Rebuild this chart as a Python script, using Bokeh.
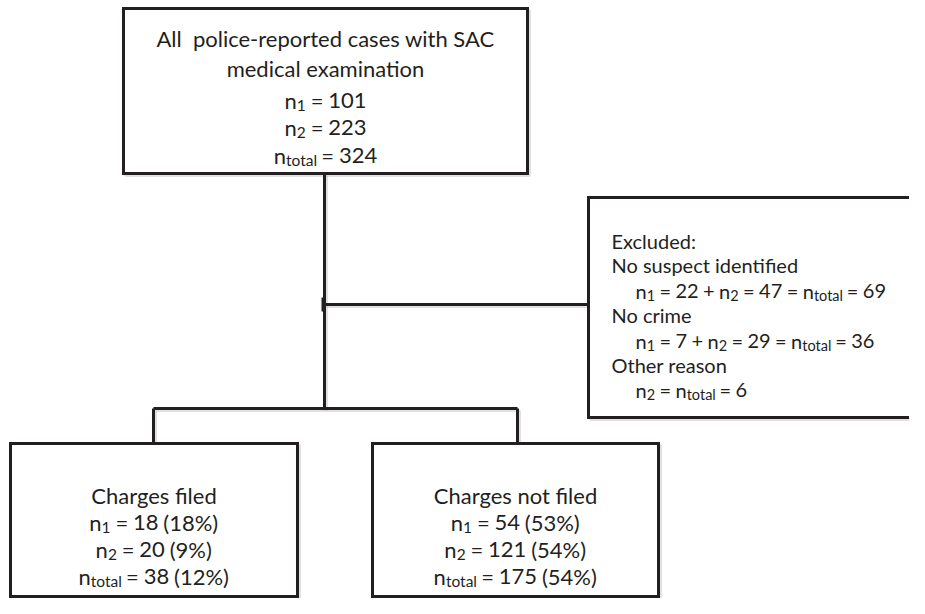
from bokeh.plotting import figure
from bokeh.models import ColumnDataSource, Range1d
from bokeh.embed import file_html
from bokeh.resources import INLINE

# ---------------- data ----------------
top_title = ["All  police-reported cases with SAC", "medical examination"]
all_n1 = 101
all_n2 = 223
all_total = 324

excl_header = "Excluded:"
excl_reasons = ["No suspect identified", "No crime", "Other reason"]
excl_n1 = [22, 7, None]
excl_n2 = [47, 29, 6]
excl_total = [69, 36, 6]

outcome_labels = ["Charges filed", "Charges not filed"]
outcome_n1 = [18, 54]
outcome_n1_pct = [18, 53]
outcome_n2 = [20, 121]
outcome_n2_pct = [9, 54]
outcome_total = [38, 175]
outcome_total_pct = [12, 54]

# ---------------- style / layout ----------------
INK = "#231f20"
FONT = "Lato"
FS_BOX, FS_BOX_SUB = 22, 15.5     # top / outcome boxes
FS_EXC, FS_EXC_SUB = 20, 14.5     # excluded box
SUB_DY = 4.5
LW = 3

W = {' ': 0.22, '=': 0.58, '+': 0.58, '(': 0.30, ')': 0.30, '%': 0.76,
     'n': 0.56, 't': 0.34, 'o': 0.55, 'a': 0.49, 'l': 0.245}
for d in "0123456789":
    W[d] = 0.58


def text_width(s, size):
    return sum(W.get(c, 0.55) for c in s) * size


TOP_BOX = (123, 8, 527, 173)
EXC_BOX = (588, 197, 960, 417)
OUT_BOXES = [(10, 443, 297, 596), (372, 443, 658, 596)]

p = figure(width=909, height=598, x_range=Range1d(0, 909), y_range=Range1d(598, 0),
           output_backend="svg", toolbar_location=None, min_border=0)
p.axis.visible = False
p.grid.visible = False
p.outline_line_color = None
p.background_fill_color = "white"
p.border_fill_color = "white"

# connectors
trunk_x = 324
branch_y = 304
bar_y = 408
drop_x = [153, 517]
seg_xs = [[trunk_x, trunk_x], [trunk_x, EXC_BOX[0]], [drop_x[0], drop_x[1]],
          [drop_x[0], drop_x[0]], [drop_x[1], drop_x[1]]]
seg_ys = [[TOP_BOX[3], bar_y], [branch_y, branch_y], [bar_y, bar_y],
          [bar_y, OUT_BOXES[0][1]], [bar_y, OUT_BOXES[1][1]]]

boxes = [TOP_BOX, EXC_BOX] + OUT_BOXES

# soft shadows
p.multi_line([[x + 2 for x in xs] for xs in seg_xs], [[y + 2 for y in ys] for ys in seg_ys],
             line_color="#9a9a9a", line_alpha=0.3, line_width=LW)
p.quad(left=[b[0] + 2 for b in boxes], right=[b[2] + 2 for b in boxes],
       top=[b[1] + 2 for b in boxes], bottom=[b[3] + 2 for b in boxes],
       fill_color=None, line_color="#9a9a9a", line_alpha=0.3, line_width=LW)

p.multi_line(seg_xs, seg_ys, line_color=INK, line_width=LW)
p.segment(x0=[trunk_x - 2], y0=[branch_y - 7], x1=[trunk_x - 2], y1=[branch_y + 7],
          line_color=INK, line_width=2)

p.quad(left=[b[0] for b in boxes], right=[b[2] for b in boxes],
       top=[b[1] for b in boxes], bottom=[b[3] for b in boxes],
       fill_color="white", line_color=INK, line_width=LW, line_join="miter")

# ---------------- texts ----------------
tx, ty, tt, tfs, tal = [], [], [], [], []


def add_title(text, x, y, size, align):
    tx.append(x)
    ty.append(y)
    tt.append(text.replace("  ", " \u00a0"))
    tfs.append(f"{size}px")
    tal.append(align)


def tokens(segs, size, sub_size):
    out = []
    x = 0.0
    for t, sub in segs:
        s = sub_size if sub else size
        i = 0
        while i < len(t):
            if t[i] == " ":
                x += W[" "] * s
                i += 1
                continue
            j = i
            while j < len(t) and t[j] != " ":
                j += 1
            tok = t[i:j]
            out.append((tok, x, sub, s))
            x += text_width(tok, s)
            i = j
    return out, x


def add_segs(segs, x, y, size, sub_size, align="center"):
    toks, total = tokens(segs, size, sub_size)
    x0 = x - total / 2 if align == "center" else x
    for tok, off, sub, s in toks:
        tx.append(x0 + off)
        ty.append(y + (SUB_DY if sub else 0))
        tt.append(tok)
        tfs.append(f"{s}px")
        tal.append("left")


def n_line(sub, rest):
    return [("n", False), (sub, True), (rest, False)]


# top box
cx = (TOP_BOX[0] + TOP_BOX[2]) / 2
top_base = [38, 68, 100, 127, 155]
add_title(top_title[0], cx, top_base[0], FS_BOX, "center")
add_title(top_title[1], cx, top_base[1], FS_BOX, "center")
add_segs(n_line("1", f" = {all_n1}"), cx, top_base[2], FS_BOX, FS_BOX_SUB)
add_segs(n_line("2", f" = {all_n2}"), cx, top_base[3], FS_BOX, FS_BOX_SUB)
add_segs(n_line("total", f" = {all_total}"), cx, top_base[4], FS_BOX, FS_BOX_SUB)

# excluded box
ex_x0, ex_x1 = 611, 635
ex_base = [240, 264, 290, 314, 340, 364, 389]
add_title(excl_header, ex_x0, ex_base[0], FS_EXC, "left")
for i, reason in enumerate(excl_reasons):
    add_title(reason, ex_x0, ex_base[1 + 2 * i], FS_EXC, "left")
    if excl_n1[i] is not None:
        segs = [("n", False), ("1", True), (f" = {excl_n1[i]} + ", False),
                ("n", False), ("2", True), (f" = {excl_n2[i]} = ", False),
                ("n", False), ("total", True), (f" = {excl_total[i]}", False)]
    else:
        segs = [("n", False), ("2", True), (" = ", False),
                ("n", False), ("total", True), (f" = {excl_total[i]}", False)]
    add_segs(segs, ex_x1, ex_base[2 + 2 * i], FS_EXC, FS_EXC_SUB, "left")

# outcome boxes
out_base = [495, 522, 549, 576]
for i, b in enumerate(OUT_BOXES):
    cx = (b[0] + b[2]) / 2
    add_title(outcome_labels[i], cx, out_base[0], FS_BOX, "center")
    add_segs(n_line("1", f" = {outcome_n1[i]} ({outcome_n1_pct[i]}%)"), cx, out_base[1], FS_BOX, FS_BOX_SUB)
    add_segs(n_line("2", f" = {outcome_n2[i]} ({outcome_n2_pct[i]}%)"), cx, out_base[2], FS_BOX, FS_BOX_SUB)
    add_segs(n_line("total", f" = {outcome_total[i]} ({outcome_total_pct[i]}%)"), cx, out_base[3], FS_BOX, FS_BOX_SUB)

src = ColumnDataSource(dict(x=tx, y=ty, text=tt, fs=tfs, al=tal))
p.text(x="x", y="y", text="text", source=src, text_font_size="fs",
       text_font={"value": FONT}, text_color=INK, text_align="al",
       text_baseline="alphabetic")

open("out.html", "w").write(file_html(p, INLINE))
